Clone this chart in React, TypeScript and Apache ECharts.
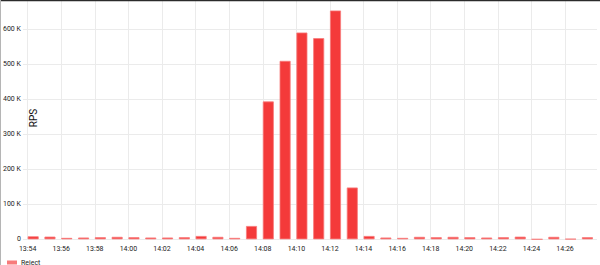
import React, { useEffect, useRef } from "react";
import * as echarts from "echarts";

// ---- data ----
const TIMES = [
  "13:54", "13:55", "13:56", "13:57", "13:58", "13:59", "14:00", "14:01", "14:02", "14:03",
  "14:04", "14:05", "14:06", "14:07", "14:08", "14:09", "14:10", "14:11", "14:12", "14:13",
  "14:14", "14:15", "14:16", "14:17", "14:18", "14:19", "14:20", "14:21", "14:22", "14:23",
  "14:24", "14:25", "14:26", "14:27",
];
const REJECT = [
  8600, 7600, 4000, 5000, 6000, 7000, 6000, 5000, 5000, 6000,
  9500, 7000, 4000, 38000, 394000, 510000, 591000, 575000, 654000, 148000,
  9500, 5000, 4000, 7000, 6000, 7000, 6000, 5000, 6000, 7500,
  0, 7000, 1000, 6000,
];
const SERIES_NAME = "Reject";
const Y_AXIS_NAME = "RPS";
const Y_MIN = 0;
const Y_MAX = 684000;
const Y_STEP = 100000;
const X_TICK_LABELS = [
  "13:54", "13:56", "13:58", "14:00", "14:02", "14:04", "14:06", "14:08",
  "14:10", "14:12", "14:14", "14:16", "14:18", "14:20", "14:22", "14:24", "14:26",
];

const toMin = (t: string) => {
  const [h, m] = t.split(":").map(Number);
  return h * 60 + m;
};
const BASE = toMin(TIMES[0]);
const fromMin = (v: number) => {
  const total = Math.round(BASE + v);
  const h = Math.floor(total / 60);
  const m = total % 60;
  return `${h}:${m < 10 ? "0" + m : m}`;
};
// bars are drawn starting at their minute (left-aligned), like the source dashboard
const BAR_SHIFT = 0.33;

export default function App() {
  const ref = useRef<HTMLDivElement>(null);
  useEffect(() => {
    document.body.style.margin = "0";
    if (!ref.current) return;
    const chart = echarts.init(ref.current, null, { renderer: "svg" });
    const font = "Roboto, 'Noto Sans', sans-serif";
    const xTicks = X_TICK_LABELS.map((t) => toMin(t) - BASE);
    chart.setOption({
      animation: false,
      backgroundColor: "#ffffff",
      textStyle: { fontFamily: font },
      grid: { left: 21, right: 3, top: 0, bottom: 25.7, containLabel: false },
      xAxis: {
        type: "value",
        min: -0.28,
        max: 33.9,
        axisLine: { show: false },
        axisTick: { show: false, customValues: xTicks },
        axisLabel: {
          customValues: xTicks,
          formatter: (v: number) => fromMin(v),
          fontSize: 7,
          color: "#222",
          margin: 6,
          fontFamily: font,
        },
        splitLine: { show: true, lineStyle: { color: "#ebebeb", width: 1 } },
      },
      yAxis: {
        type: "value",
        min: Y_MIN,
        max: Y_MAX,
        interval: Y_STEP,
        axisLine: { show: false },
        axisTick: { show: false },
        axisLabel: {
          showMaxLabel: false,
          formatter: (v: number) => (v === 0 ? "0" : `${v / 1000} K`),
          fontSize: 7,
          color: "#222",
          margin: 2,
          fontFamily: font,
        },
        splitLine: { show: true, lineStyle: { color: "#ebebeb", width: 1 } },
      },
      legend: {
        show: true,
        left: 2,
        top: 254,
        icon: "rect",
        itemWidth: 8,
        itemHeight: 2,
        itemGap: 4,
        textStyle: { fontSize: 7, color: "#222", fontFamily: font },
        data: [SERIES_NAME],
      },
      series: [
        {
          name: SERIES_NAME,
          type: "bar",
          barWidth: 11,
          data: TIMES.map((t, i) => [toMin(t) - BASE + BAR_SHIFT, REJECT[i]]),
          itemStyle: {
            color: "#f43a3a",
            borderColor: "#f77b7b",
            borderWidth: 0.8,
          },
        },
      ],
      graphic: [
        { type: "rect", left: 0, top: 0, shape: { x: 0, y: 0, width: 600, height: 1.2 }, style: { fill: "#2b2b2b" }, z: 100 },
        { type: "rect", left: 0, top: 0, shape: { x: 0, y: 0, width: 1, height: 265 }, style: { fill: "#b5b5b5" }, z: 100 },
        {
          type: "text",
          x: 33,
          y: 118,
          rotation: Math.PI / 2,
          style: {
            text: Y_AXIS_NAME,
            fontSize: 10,
            fill: "#111",
            fontFamily: font,
            align: "center",
            verticalAlign: "middle",
          },
          z: 50,
        },
      ],
    });
    return () => chart.dispose();
  }, []);
  return <div ref={ref} style={{ width: 600, height: 265 }} />;
}
